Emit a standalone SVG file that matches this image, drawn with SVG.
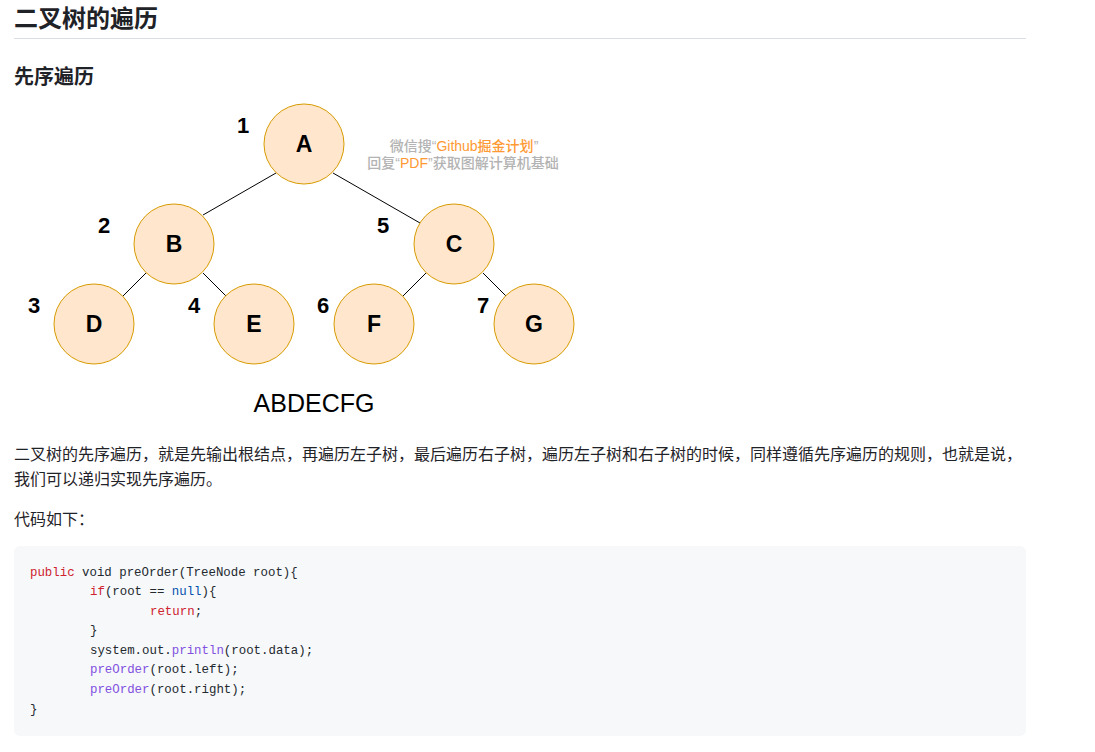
<svg xmlns="http://www.w3.org/2000/svg" width="1095" height="752" viewBox="0 0 1095 752">
<style>
.h{font-family:"Liberation Sans","Noto Sans CJK SC",sans-serif;font-weight:bold;fill:#1f2328}
.p{font-family:"Liberation Sans","Noto Sans CJK SC",sans-serif;font-size:16px;fill:#1f2328}
.node circle{fill:#ffe6cc;stroke:#d79b00;stroke-width:1}
.node text{font-family:"Liberation Sans",Arial,sans-serif;font-weight:bold;font-size:23px;fill:#000;text-anchor:middle}
.num{font-family:"Liberation Sans",Arial,sans-serif;font-weight:bold;font-size:22px;fill:#000;text-anchor:middle}
.edge line{stroke:#000;stroke-width:1}
.wm{font-family:"Liberation Sans","Noto Sans CJK SC",sans-serif;font-size:14px;font-weight:500;fill:#b3b3b3;text-anchor:middle}
.or{fill:#ff9933}
.code{font-family:"Liberation Mono","DejaVu Sans Mono",monospace;font-size:12.4px;fill:#24292f;white-space:pre}
.kw{fill:#cf222e}
.fn{fill:#8250df}
.cn{fill:#0550ae}
</style>
<rect width="1095" height="752" fill="#fff"/>
<text class="h" x="14" y="27" font-size="24">二叉树的遍历</text>
<line x1="14" y1="38.5" x2="1026" y2="38.5" stroke="#d8dee4" stroke-width="1"/>
<text class="h" x="14" y="84" font-size="20">先序遍历</text>

<g id="connectors" class="edge">
<line x1="276" y1="173" x2="203" y2="215"/>
<line x1="333" y1="173" x2="420" y2="223"/>
<line x1="146" y1="273" x2="123" y2="296"/>
<line x1="203" y1="273" x2="226" y2="296"/>
<line x1="426" y1="273" x2="403" y2="296"/>
<line x1="483" y1="273" x2="506" y2="296"/>
</g>

<g id="node-A" class="node"><circle cx="304" cy="144" r="40"/><text x="304" y="152">A</text></g>
<g id="node-B" class="node"><circle cx="174" cy="244" r="40"/><text x="174" y="252">B</text></g>
<g id="node-C" class="node"><circle cx="454" cy="244" r="40"/><text x="454" y="252">C</text></g>
<g id="node-D" class="node"><circle cx="94" cy="324" r="40"/><text x="94" y="332">D</text></g>
<g id="node-E" class="node"><circle cx="254" cy="324" r="40"/><text x="254" y="332">E</text></g>
<g id="node-F" class="node"><circle cx="374" cy="324" r="40"/><text x="374" y="332">F</text></g>
<g id="node-G" class="node"><circle cx="534" cy="324" r="40"/><text x="534" y="332">G</text></g>

<g id="order-numbers">
<text class="num" x="243" y="133">1</text>
<text class="num" x="104" y="233">2</text>
<text class="num" x="34" y="313">3</text>
<text class="num" x="194" y="313">4</text>
<text class="num" x="383" y="233">5</text>
<text class="num" x="323" y="313">6</text>
<text class="num" x="483" y="313">7</text>
</g>

<g id="watermark">
<text class="wm" x="464" y="151">微信搜“<tspan class="or">Github掘金计划</tspan>”</text>
<text class="wm" x="463" y="168">回复“<tspan class="or">PDF</tspan>”获取图解计算机基础</text>
</g>

<text x="314" y="412" font-family="'Liberation Sans',Arial,sans-serif" font-size="25" text-anchor="middle" fill="#000">ABDECFG</text>

<text class="p" x="14" y="460">二叉树的先序遍历，就是先输出根结点，再遍历左子树，最后遍历右子树，遍历左子树和右子树的时候，同样遵循先序遍历的规则，也就是说，</text>
<text class="p" x="14" y="485">我们可以递归实现先序遍历。</text>
<text class="p" x="14" y="525">代码如下：</text>

<g id="code-block">
<rect x="14" y="546" width="1012" height="190" rx="6" fill="#f6f8fa"/>
<text class="code" x="30" y="576"><tspan class="kw">public</tspan> void preOrder(TreeNode root){</text>
<text class="code" x="90" y="595"><tspan class="kw">if</tspan>(root == <tspan class="cn">null</tspan>){</text>
<text class="code" x="150" y="615"><tspan class="kw">return</tspan>;</text>
<text class="code" x="90" y="634">}</text>
<text class="code" x="90" y="654">system.out.<tspan class="fn">println</tspan>(root.data);</text>
<text class="code" x="90" y="673"><tspan class="fn">preOrder</tspan>(root.left);</text>
<text class="code" x="90" y="693"><tspan class="fn">preOrder</tspan>(root.right);</text>
<text class="code" x="30" y="713">}</text>
</g>
</svg>
